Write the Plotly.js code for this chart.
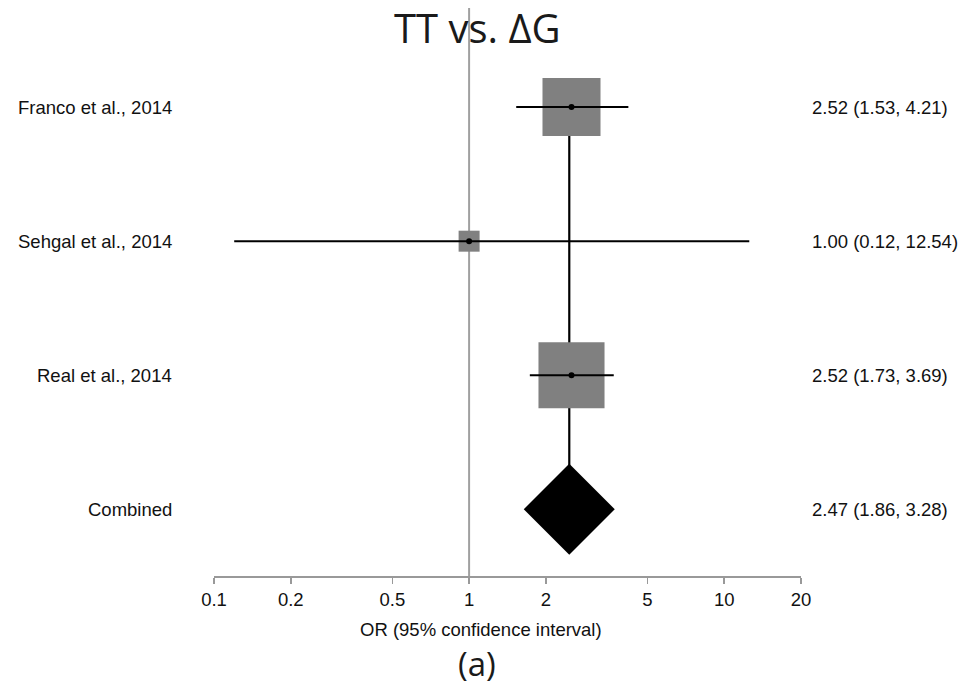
<!DOCTYPE html>
<html>
<head>
<meta charset="utf-8">
<script src="https://cdn.plot.ly/plotly-3.0.1.min.js"></script>
<style>
  html, body { margin: 0; padding: 0; background: #ffffff; }
  #chart { width: 967px; height: 690px; }
</style>
</head>
<body>
<div id="chart"></div>
<script>
// Forest plot: odds ratios for TT vs. ΔG
const studies = ["Franco et al., 2014", "Sehgal et al., 2014", "Real et al., 2014"];
const orValues = [2.52, 1.00, 2.52];
const ciLower = [1.53, 0.12, 1.73];
const ciUpper = [4.21, 12.54, 3.69];
const weights = [41.2, 5.4, 53.4];   // study weights (%)

const combinedLabel = "Combined";
const combinedOR = 2.47;
const combinedLower = 1.86;
const combinedUpper = 3.28;

const tickValues = [0.1, 0.2, 0.5, 1, 2, 5, 10, 20];
const tickLabels = ["0.1", "0.2", "0.5", "1", "2", "5", "10", "20"];

// Geometry of the plotting area (pixels)
const W = 967, H = 690;
const L = 214, R = 166, T = 8, B = 114;
const plotW = W - L - R, plotH = H - T - B;
const px2x = px => (px - L) / plotW;
const py2y = py => (H - B - py) / plotH;

// rows from the top: studies, then the pooled estimate
const nRows = studies.length + 1;
const rowY = studies.map((_, i) => nRows - i);
const combinedY = 1;

const fmt = (o, l, u) => `${o.toFixed(2)} (${l.toFixed(2)}, ${u.toFixed(2)})`;

const traces = [];

// vertical line at the pooled estimate
traces.push({
  type: "scatter", mode: "lines",
  x: [combinedOR, combinedOR], y: [rowY[0], combinedY],
  line: { color: "#000000", width: 2.2 },
  hoverinfo: "skip", showlegend: false
});

// weight squares
traces.push({
  type: "scatter", mode: "markers",
  x: orValues, y: rowY,
  marker: {
    symbol: "square", color: "#808080", opacity: 1,
    size: weights.map(w => 9.04 * Math.sqrt(w)),
    line: { width: 0 }
  },
  hoverinfo: "skip", showlegend: false
});

// confidence interval segments
const ciX = [], ciY = [];
studies.forEach((_, i) => {
  ciX.push(ciLower[i], ciUpper[i], null);
  ciY.push(rowY[i], rowY[i], null);
});
traces.push({
  type: "scatter", mode: "lines",
  x: ciX, y: ciY,
  line: { color: "#000000", width: 2 },
  hoverinfo: "skip", showlegend: false
});

// point estimates
traces.push({
  type: "scatter", mode: "markers",
  x: orValues, y: rowY,
  marker: { symbol: "circle", color: "#000000", size: 6, opacity: 1 },
  hoverinfo: "skip", showlegend: false
});

// pooled estimate diamond
traces.push({
  type: "scatter", mode: "markers",
  x: [combinedOR], y: [combinedY],
  marker: { symbol: "diamond", color: "#000000", size: 70, opacity: 1, line: { width: 0 } },
  hoverinfo: "skip", showlegend: false
});

const labelFont = { family: "Liberation Sans, Arial, sans-serif", size: 18.5, color: "#111111" };

const annotations = [];
const allLabels = studies.concat([combinedLabel]);
const allY = rowY.concat([combinedY]);
const allText = studies.map((_, i) => fmt(orValues[i], ciLower[i], ciUpper[i]))
  .concat([fmt(combinedOR, combinedLower, combinedUpper)]);

allLabels.forEach((lab, i) => {
  annotations.push({
    xref: "paper", yref: "y", x: px2x(174), y: allY[i],
    xanchor: "right", yanchor: "middle", showarrow: false,
    text: lab, font: labelFont
  });
  annotations.push({
    xref: "paper", yref: "y", x: px2x(810), y: allY[i],
    xanchor: "left", yanchor: "middle", showarrow: false,
    text: allText[i], font: labelFont
  });
});

// chart title, axis title and panel letter
annotations.push({
  xref: "paper", yref: "paper", x: px2x(477), y: py2y(28),
  xanchor: "center", yanchor: "middle", showarrow: false,
  text: "TT vs. ΔG",
  font: { family: "Open Sans, Noto Sans, sans-serif", size: 40, color: "#1a1a1a" }
});
annotations.push({
  xref: "paper", yref: "paper", x: px2x(481), y: py2y(629),
  xanchor: "center", yanchor: "middle", showarrow: false,
  text: "OR (95% confidence interval)",
  font: { family: "Liberation Sans, Arial, sans-serif", size: 18.5, color: "#111111" }
});
annotations.push({
  xref: "paper", yref: "paper", x: px2x(477), y: py2y(688),
  xanchor: "center", yanchor: "bottom", showarrow: false,
  text: "(a)",
  font: { family: "Open Sans, Noto Sans, sans-serif", size: 33, color: "#1a1a1a" }
});

const layout = {
  width: W, height: H,
  margin: { l: L, r: R, t: T, b: B, pad: 0 },
  paper_bgcolor: "#ffffff", plot_bgcolor: "#ffffff",
  showlegend: false,
  xaxis: {
    type: "log",
    range: [Math.log10(0.1), Math.log10(20)],
    tickmode: "array", tickvals: tickValues, ticktext: tickLabels,
    ticks: "outside", ticklen: 6, tickwidth: 1.5, tickcolor: "#999999",
    showline: true, linecolor: "#999999", linewidth: 1.5,
    showgrid: false, zeroline: false,
    tickfont: { family: "Liberation Sans, Arial, sans-serif", size: 18.5, color: "#111111" },
    fixedrange: true
  },
  yaxis: {
    visible: false,
    range: [combinedY - 0.497, rowY[0] + 0.739],
    fixedrange: true
  },
  shapes: [{
    type: "line", xref: "x", yref: "paper",
    x0: 1, x1: 1, y0: 0, y1: 1,
    line: { color: "#a0a0a0", width: 2 },
    layer: "below"
  }],
  annotations: annotations
};

Plotly.newPlot("chart", traces, layout, { displayModeBar: false, staticPlot: true });
</script>
</body>
</html>
